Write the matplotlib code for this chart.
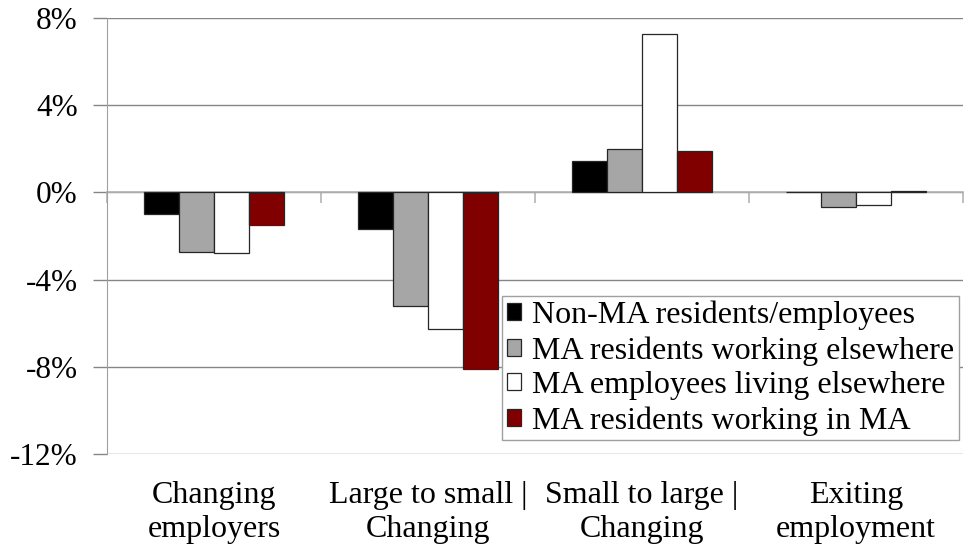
import numpy as np
import matplotlib
matplotlib.use("Agg")
import matplotlib.pyplot as plt
from matplotlib.ticker import FixedLocator, FuncFormatter
from matplotlib.transforms import blended_transform_factory

plt.rcParams["font.family"] = ["Liberation Serif", "DejaVu Serif"]

categories = [
    "Changing\nemployers",
    "Large to small |\nChanging",
    "Small to large |\nChanging",
    "Exiting\nemployment",
]
series_names = [
    "Non-MA residents/employees",
    "MA residents working elsewhere",
    "MA employees living elsewhere",
    "MA residents working in MA",
]
non_ma = [-0.98, -1.66, 1.45, 0.03]
ma_res_elsewhere = [-2.75, -5.23, 1.97, -0.67]
ma_emp_elsewhere = [-2.80, -6.27, 7.26, -0.58]
ma_res_in_ma = [-1.48, -8.09, 1.88, 0.08]
yticks = [-12, -8, -4, 0, 4, 8]

series = [non_ma, ma_res_elsewhere, ma_emp_elsewhere, ma_res_in_ma]
colors = ["#000000", "#a6a6a6", "#ffffff", "#800000"]

W, H = 964, 550
fig = plt.figure(figsize=(W / 100, H / 100), dpi=100)
ax = fig.add_axes([107 / W, (H - 454) / H, (963 - 107) / W, (454 - 18) / H])

x = np.arange(len(categories))
bw = 0.1636
for j, (vals, col, name) in enumerate(zip(series, colors, series_names)):
    ax.bar(
        x + (j - 1.5) * bw,
        vals,
        bw,
        color=col,
        edgecolor="#262626",
        linewidth=0.9,
        label=name,
        zorder=3,
    )

ax.set_xlim(-0.5, len(categories) - 0.5)
ax.set_ylim(-12, 8)
ax.yaxis.set_major_locator(FixedLocator(yticks))
ax.yaxis.set_major_formatter(FuncFormatter(lambda v, _: f"{v:.0f}%"))
ax.yaxis.grid(True, color="#868686", linewidth=1.0, zorder=0)
ax.set_axisbelow(True)
ax.tick_params(axis="y", length=10, width=1.0, color="#868686",
               labelsize=22.5, pad=11)

# category axis sits on zero, ticks between categories
ax.spines["bottom"].set_position(("data", 0))
ax.spines["bottom"].set_color("#b4b4b4")
ax.spines["bottom"].set_linewidth(1.2)
ax.spines["bottom"].set_zorder(2)
ax.xaxis.set_major_locator(FixedLocator(np.arange(-0.5, len(categories), 1.0)))
ax.tick_params(axis="x", direction="out", length=8, width=1.2,
               color="#b4b4b4", labelbottom=False)
ax.spines["left"].set_color("#a0a0a0")
ax.spines["top"].set_visible(False)
ax.spines["right"].set_visible(False)

trans = blended_transform_factory(ax.transData, ax.transAxes)
for i, lab in enumerate(categories):
    ax.text(i, -0.062, lab, transform=trans, ha="center", va="top",
            fontsize=23, linespacing=1.22)

leg = ax.legend(
    loc="upper left",
    bbox_to_anchor=(0.4614, 0.3624),
    fontsize=23,
    frameon=True,
    fancybox=False,
    framealpha=1,
    edgecolor="#a0a0a0",
    handlelength=0.45,
    handleheight=0.45,
    handletextpad=0.35,
    labelspacing=0.18,
    borderpad=0.15,
    borderaxespad=0,
)
leg.get_frame().set_linewidth(1.0)

fig.savefig("out.png", dpi=100)
